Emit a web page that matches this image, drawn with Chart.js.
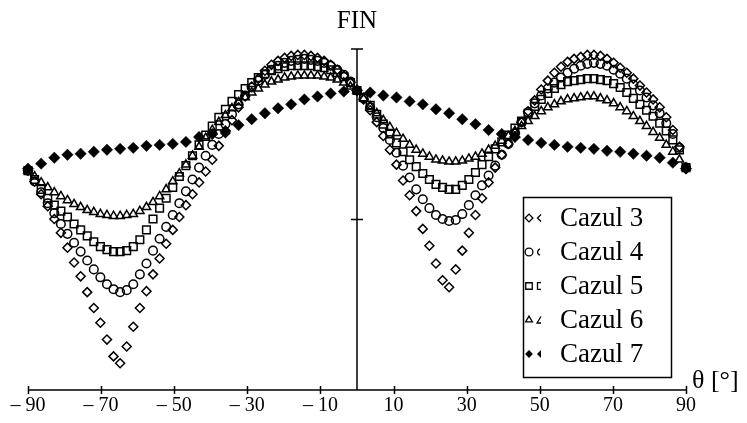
<!DOCTYPE html>
<html>
<head>
<meta charset="utf-8">
<script src="https://cdn.jsdelivr.net/npm/chart.js@4.4.1/dist/chart.umd.min.js"></script>
<style>
  html, body { margin: 0; padding: 0; background: #fff; }
  #wrap { width: 747px; height: 423px; position: relative; }
</style>
</head>
<body>
<div id="wrap"><canvas id="finChart"></canvas></div>
<script>
// theta grids (deg) - cases 3..6 are sampled twice as dense as case 7
const thetaFine = [
  -90, -88.2, -86.4, -84.6, -82.8, -81, -79.2, -77.4, -75.6, -73.8,
  -72, -70.2, -68.4, -66.6, -64.8, -63, -61.2, -59.4, -57.6, -55.8,
  -54, -52.2, -50.4, -48.6, -46.8, -45, -43.2, -41.4, -39.6, -37.8,
  -36, -34.2, -32.4, -30.6, -28.8, -27, -25.2, -23.4, -21.6, -19.8,
  -18, -16.2, -14.4, -12.6, -10.8, -9, -7.2, -5.4, -3.6, -1.8,
  0,
  1.8, 3.6, 5.4, 7.2, 9, 10.8, 12.6, 14.4, 16.2, 18,
  19.8, 21.6, 23.4, 25.2, 27, 28.8, 30.6, 32.4, 34.2, 36,
  37.8, 39.6, 41.4, 43.2, 45, 46.8, 48.6, 50.4, 52.2, 54,
  55.8, 57.6, 59.4, 61.2, 63, 64.8, 66.6, 68.4, 70.2, 72,
  73.8, 75.6, 77.4, 79.2, 81, 82.8, 84.6, 86.4, 88.2, 90
];
const thetaCoarse = [
  -90, -86.4, -82.8, -79.2, -75.6, -72, -68.4, -64.8, -61.2, -57.6,
  -54, -50.4, -46.8, -43.2, -39.6, -36, -32.4, -28.8, -25.2, -21.6,
  -18, -14.4, -10.8, -7.2, -3.6, 0, 3.6, 7.2, 10.8, 14.4,
  18, 21.6, 25.2, 28.8, 32.4, 36, 39.6, 43.2, 46.8, 50.4,
  54, 57.6, 61.2, 64.8, 68.4, 72, 75.6, 79.2, 82.8, 86.4, 90
];

// FIN values (arbitrary units)
const cazul3 = [
  222, 211, 198, 186, 173, 159, 144, 129, 115, 99,
  83, 68, 51, 34, 27, 44, 64, 83, 100, 117,
  133, 148, 162, 175, 187, 198, 210, 221, 233, 247,
  260, 273, 286, 297, 307, 315, 323, 329, 333, 336,
  338, 339, 339, 338, 336, 333, 329, 324, 318, 311,
  303,
  294, 283, 271, 257, 243, 228, 212, 197, 181, 163,
  146, 128, 111, 104, 122, 141, 159, 177, 194, 210,
  225, 238, 249, 260, 271, 282, 293, 304, 313, 321,
  327, 332, 335, 337, 339, 339, 338, 335, 331, 326,
  321, 315, 308, 301, 294, 286, 276, 263, 246, 224
];
const cazul4 = [
  222, 211, 200, 189, 179, 168, 158, 149, 140, 131,
  122, 114, 107, 102, 99, 101, 107, 117, 128, 141,
  153, 165, 177, 189, 201, 213, 225, 237, 248, 259,
  269, 279, 289, 298, 306, 313, 319, 324, 328, 331,
  333, 334, 335, 334, 333, 331, 328, 324, 319, 312,
  303,
  295, 286, 276, 265, 253, 240, 227, 215, 203, 193,
  184, 177, 173, 171, 172, 178, 187, 197, 207, 217,
  227, 238, 249, 260, 271, 281, 290, 298, 305, 311,
  316, 321, 325, 328, 330, 331, 330, 328, 324, 320,
  315, 309, 303, 296, 288, 280, 270, 259, 245, 225
];
const cazul5 = [
  222, 213, 203, 194, 187, 181, 175, 168, 162, 156,
  150, 145, 142, 140, 140, 141, 145, 152, 162, 173,
  184, 194, 205, 216, 227, 237, 248, 258, 267, 276,
  284, 292, 299, 305, 311, 316, 320, 323, 325, 327,
  328, 328, 328, 328, 327, 326, 324, 321, 317, 311,
  303,
  296, 288, 279, 269, 259, 250, 241, 233, 226, 219,
  213, 208, 205, 203, 203, 207, 213, 220, 228, 236,
  244, 251, 258, 265, 272, 280, 287, 294, 300, 305,
  309, 312, 313, 314, 315, 315, 314, 313, 310, 306,
  301, 295, 289, 283, 277, 270, 262, 253, 243, 225
];
const cazul6 = [
  222, 216, 210, 205, 200, 196, 192, 188, 185, 182,
  180, 178, 177, 176, 176, 177, 178, 181, 185, 190,
  196, 203, 211, 219, 228, 237, 246, 255, 263, 271,
  278, 285, 291, 296, 301, 305, 309, 312, 314, 316,
  317, 318, 318, 318, 318, 317, 316, 314, 311, 307,
  303,
  295, 287, 280, 273, 266, 260, 254, 248, 243, 239,
  236, 233, 232, 231, 231, 232, 234, 236, 239, 243,
  247, 252, 257, 262, 267, 272, 277, 282, 286, 289,
  292, 294, 295, 296, 297, 297, 295, 293, 290, 286,
  282, 277, 272, 267, 261, 255, 248, 241, 233, 225
];
const cazul7 = [
  224, 229, 235, 238, 239, 241, 243, 244, 245, 247,
  248, 249, 251, 256, 259, 262, 268, 274, 280, 285,
  289, 294, 297, 300, 302, 303, 301, 298, 296, 292,
  289, 284, 280, 274, 269, 263, 259, 256, 253, 250,
  248, 246, 245, 244, 242, 241, 239, 237, 235, 230, 224
];

const seriesNames = ["Cazul 3", "Cazul 4", "Cazul 5", "Cazul 6", "Cazul 7"];
const xTickValues = [-90, -70, -50, -30, -10, 10, 30, 50, 70, 90];
const xTickLabels = ["\u2013 90", "\u2013 70", "\u2013 50", "\u2013 30", "\u2013 10", "10", "30", "50", "70", "90"];
const yTickValues = [0, 172.5, 345];
const yTitle = "FIN";
const xTitle = "\u03b8 [\u00b0]";

const serif = "'Liberation Serif', 'Times New Roman', serif";

function pairs(xs, ys) {
  return xs.map((t, i) => ({ x: t, y: ys[i] }));
}

// axis lines through the origin, with crossing tick marks
const axesPlugin = {
  id: "crossAxes",
  beforeDatasetsDraw(chart) {
    const { ctx, scales: { x, y } } = chart;
    const x0 = x.getPixelForValue(0);
    const yb = y.getPixelForValue(yTickValues[0]);
    const yt = y.getPixelForValue(yTickValues[yTickValues.length - 1]);
    ctx.save();
    ctx.strokeStyle = "#000";
    ctx.lineWidth = 1.5;
    ctx.beginPath();
    ctx.moveTo(x.left, yb);
    ctx.lineTo(x.right, yb);
    xTickValues.forEach((v) => {
      const px = Math.round(x.getPixelForValue(v)) + 0.5;
      ctx.moveTo(px, yb - 4);
      ctx.lineTo(px, yb + 4);
    });
    ctx.moveTo(x0, yb);
    ctx.lineTo(x0, yt);
    yTickValues.slice(1).forEach((v) => {
      const py = y.getPixelForValue(v);
      ctx.moveTo(x0 - 6, py);
      ctx.lineTo(x0 + 6, py);
    });
    ctx.stroke();

    ctx.fillStyle = "#000";
    ctx.font = "25px " + serif;
    ctx.textAlign = "center";
    ctx.textBaseline = "alphabetic";
    ctx.fillText(yTitle, x0, 28);
    ctx.font = "26px " + serif;
    ctx.textAlign = "left";
    ctx.fillText(xTitle, x.right + 6, 388);
    ctx.restore();
  },
};

// little left-half glyph drawn after each legend marker
function drawHalf(ctx, style, filled, cx, cy) {
  ctx.beginPath();
  if (style === "rectRot" && filled) {
    ctx.moveTo(cx + 2, cy - 4);
    ctx.lineTo(cx - 2, cy);
    ctx.lineTo(cx + 2, cy + 4);
    ctx.closePath();
    ctx.fill();
    return;
  }
  if (style === "rectRot") {
    ctx.moveTo(cx + 2, cy - 3.5);
    ctx.lineTo(cx - 1.5, cy);
    ctx.lineTo(cx + 2, cy + 3.5);
  } else if (style === "circle") {
    ctx.arc(cx + 2, cy, 3.3, 0.6 * Math.PI, 1.4 * Math.PI);
  } else if (style === "rect") {
    ctx.moveTo(cx + 2, cy - 3.3);
    ctx.lineTo(cx - 1.5, cy - 3.3);
    ctx.lineTo(cx - 1.5, cy + 3.3);
    ctx.lineTo(cx + 2, cy + 3.3);
  } else if (style === "triangle") {
    ctx.moveTo(cx + 2, cy - 3.5);
    ctx.lineTo(cx - 2, cy + 3);
    ctx.lineTo(cx + 2, cy + 3);
  }
  ctx.stroke();
}

const legendPlugin = {
  id: "boxLegend",
  afterDatasetsDraw(chart) {
    const { ctx } = chart;
    const bx = 523.5, by = 197.5, bw = 148, bh = 180;
    ctx.save();
    ctx.fillStyle = "#fff";
    ctx.fillRect(bx, by, bw, bh);
    ctx.strokeStyle = "#000";
    ctx.lineWidth = 1.5;
    ctx.strokeRect(bx, by, bw, bh);

    chart.data.datasets.forEach((ds, i) => {
      const cy = 218 + i * 34;
      const filled = ds.backgroundColor === "#000";
      const r = ds.pointStyle === "rect" ? 4.6 : 3.9;
      ctx.lineWidth = 1.3;
      ctx.strokeStyle = "#000";
      ctx.fillStyle = filled ? "#000" : "#fff";
      Chart.helpers.drawPoint(ctx, {
        pointStyle: ds.pointStyle,
        radius: r,
        rotation: 0,
        borderWidth: filled ? 0 : 1.3,
      }, 529, cy);
      ctx.fillStyle = "#000";
      drawHalf(ctx, ds.pointStyle, filled, 539, cy);

      ctx.font = "27px " + serif;
      ctx.textAlign = "left";
      ctx.textBaseline = "middle";
      ctx.fillText(ds.label, 560, cy + 1);
    });
    ctx.restore();
  },
};

const hollow = "rgba(0,0,0,0)";
const ctxEl = document.getElementById("finChart");

new Chart(ctxEl, {
  type: "scatter",
  data: {
    datasets: [
      { label: seriesNames[0], data: pairs(thetaFine, cazul3), pointStyle: "rectRot", pointRadius: 4.5, backgroundColor: hollow, borderColor: "#000", borderWidth: 1.5, clip: false },
      { label: seriesNames[1], data: pairs(thetaFine, cazul4), pointStyle: "circle", pointRadius: 4.3, backgroundColor: hollow, borderColor: "#000", borderWidth: 1.5, clip: false },
      { label: seriesNames[2], data: pairs(thetaFine, cazul5), pointStyle: "rect", pointRadius: 5.4, backgroundColor: hollow, borderColor: "#000", borderWidth: 1.5, clip: false },
      { label: seriesNames[3], data: pairs(thetaFine, cazul6), pointStyle: "triangle", pointRadius: 4.8, backgroundColor: hollow, borderColor: "#000", borderWidth: 1.5, clip: false },
      { label: seriesNames[4], data: pairs(thetaCoarse, cazul7), pointStyle: "rectRot", pointRadius: 5.7, backgroundColor: "#000", borderColor: "#000", borderWidth: 0.5, clip: false },
    ],
  },
  options: {
    responsive: true,
    maintainAspectRatio: false,
    animation: false,
    events: [],
    layout: { padding: { left: 28, right: 61, top: 49, bottom: 1 } },
    plugins: {
      legend: { display: false },
      tooltip: { enabled: false },
    },
    scales: {
      x: {
        type: "linear",
        min: -90,
        max: 90,
        grid: { display: false, drawTicks: false },
        border: { display: false },
        afterBuildTicks: (scale) => {
          scale.ticks = xTickValues.map((v) => ({ value: v }));
        },
        ticks: {
          autoSkip: false,
          maxRotation: 0,
          padding: 4,
          color: "#000",
          font: { family: serif, size: 20 },
          callback: (value, index) => xTickLabels[index],
        },
      },
      y: {
        type: "linear",
        min: yTickValues[0],
        max: yTickValues[yTickValues.length - 1],
        display: false,
      },
    },
  },
  plugins: [axesPlugin, legendPlugin],
});
</script>
</body>
</html>
